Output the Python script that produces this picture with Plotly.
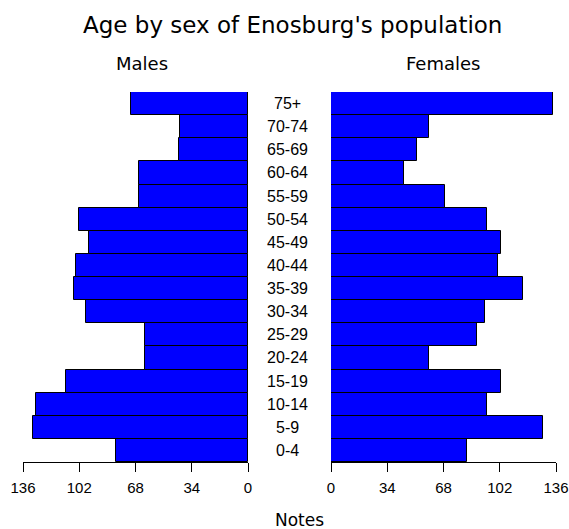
import plotly.graph_objects as go

age_groups = ["0-4", "5-9", "10-14", "15-19", "20-24", "25-29", "30-34", "35-39",
              "40-44", "45-49", "50-54", "55-59", "60-64", "65-69", "70-74", "75+"]
males = [80, 130, 128, 110, 62, 62, 98, 105, 104, 96, 102, 66, 66, 42, 41, 71]
females = [82, 128, 94, 103, 59, 88, 93, 116, 101, 103, 94, 69, 44, 52, 59, 134]
tick_vals = [0, 34, 68, 102, 136]

W, H = 569, 529
FONT = "Liberation Sans, Arial, sans-serif"
FONT2 = "DejaVu Sans, Verdana, sans-serif"
BLUE = "#0000FF"

fig = go.Figure()
fig.add_trace(go.Bar(y=age_groups, x=males, orientation="h", xaxis="x", yaxis="y",
                     marker=dict(color=BLUE, line=dict(color="black", width=1)),
                     showlegend=False, hoverinfo="x+y"))
fig.add_trace(go.Bar(y=age_groups, x=females, orientation="h", xaxis="x2", yaxis="y",
                     marker=dict(color=BLUE, line=dict(color="black", width=1)),
                     showlegend=False, hoverinfo="x+y"))

axis_common = dict(tickvals=tick_vals, ticktext=[str(v) for v in tick_vals],
                   showgrid=False, zeroline=False, showline=True, linecolor="black",
                   linewidth=1, ticks="outside", ticklen=9, tickcolor="black",
                   tickfont=dict(family=FONT, size=15, color="black"), anchor="y",
                   automargin=False, ticklabelstandoff=3)

y_bottom = 1 - 462 / H
y_top = 1 - 92 / H

fig.update_layout(
    width=W, height=H, autosize=False,
    margin=dict(l=0, r=0, t=0, b=0, pad=0, autoexpand=False),
    paper_bgcolor="white", plot_bgcolor="white",
    bargap=0,
    xaxis=dict(domain=[23 / W, 248 / W], range=[136, 0], **axis_common),
    xaxis2=dict(domain=[331 / W, 556 / W], range=[0, 136], **axis_common),
    yaxis=dict(domain=[y_bottom, y_top], range=[-0.5, 15.5], visible=False,
               categoryorder="array", categoryarray=age_groups, automargin=False),
    font=dict(family=FONT, color="black"),
)

for g in age_groups:
    fig.add_annotation(x=287 / W, xref="paper", y=g, yref="y", text=g, showarrow=False,
                       xanchor="center", yanchor="middle",
                       font=dict(family=FONT, size=16, color="black"))

fig.add_annotation(x=292 / W, y=1 - 25 / H, xref="paper", yref="paper",
                   text="Age by sex of Enosburg's population", showarrow=False,
                   xanchor="center", yanchor="middle",
                   font=dict(family=FONT2, size=23, color="black"))
fig.add_annotation(x=142 / W, y=1 - 63 / H, xref="paper", yref="paper", text="Males",
                   showarrow=False, xanchor="center", yanchor="middle",
                   font=dict(family=FONT2, size=18, color="black"))
fig.add_annotation(x=443 / W, y=1 - 63 / H, xref="paper", yref="paper", text="Females",
                   showarrow=False, xanchor="center", yanchor="middle",
                   font=dict(family=FONT2, size=18, color="black"))
fig.add_annotation(x=299 / W, y=1 - 520 / H, xref="paper", yref="paper", text="Notes",
                   showarrow=False, xanchor="center", yanchor="middle",
                   font=dict(family=FONT2, size=17, color="black"))

post = ("document.body.style.margin='0';document.body.style.padding='0';"
        "document.documentElement.style.overflow='hidden';")
fig.write_html("out.html", config={"responsive": False, "displayModeBar": False},
               post_script=post)
